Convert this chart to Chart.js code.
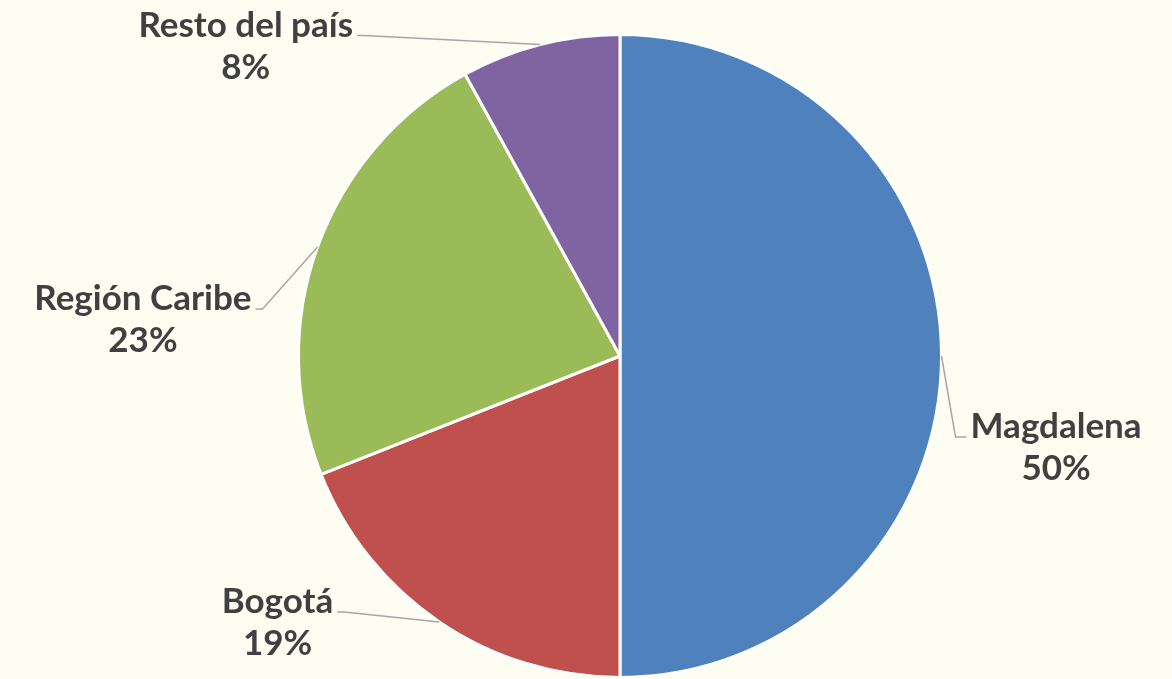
<!DOCTYPE html>
<html>
<head>
<meta charset="utf-8">
<script src="https://cdn.jsdelivr.net/npm/chart.js@4.4.1/dist/chart.umd.min.js"></script>
<style>
  html, body { margin: 0; padding: 0; background: #FDFDF2; }
  #wrap { width: 1172px; height: 679px; }
</style>
</head>
<body>
<div id="wrap"><canvas id="pieChart" width="1172" height="679"></canvas></div>
<script>
const categories = ['Magdalena', 'Bogotá', 'Región Caribe', 'Resto del país'];
const shares = [50, 19, 23, 8];
const sliceColors = ['#4F81BD', '#C0504D', '#9BBB59', '#8064A2'];

// where each label's leader line bends, relative to the slice's outer midpoint
const elbowOffsets = [[14, 81], [-95, -10], [-55, 62], [-176, -9]];

const leaderLabels = {
  id: 'leaderLabels',
  afterDatasetsDraw(chart) {
    const ctx = chart.ctx;
    const arcs = chart.getDatasetMeta(0).data;
    ctx.save();
    ctx.font = 'bold 35px Lato';
    ctx.fillStyle = '#404040';
    ctx.textBaseline = 'middle';
    arcs.forEach((arc, i) => {
      const mid = (arc.startAngle + arc.endAngle) / 2;
      const sx = arc.x + Math.cos(mid) * arc.outerRadius;
      const sy = arc.y + Math.sin(mid) * arc.outerRadius;
      const ex = sx + elbowOffsets[i][0];
      const ey = sy + elbowOffsets[i][1];
      const right = ex > arc.x;
      const tx = right ? ex + 11 : ex - 7;

      ctx.strokeStyle = '#A6A6A6';
      ctx.lineWidth = 1.5;
      ctx.beginPath();
      ctx.moveTo(sx, sy);
      ctx.lineTo(ex, ey);
      ctx.lineTo(tx, ey);
      ctx.stroke();

      const w = ctx.measureText(categories[i]).width;
      const cx = right ? tx + 4 + w / 2 : tx - 4 - w / 2;
      ctx.textAlign = 'center';
      ctx.fillText(categories[i], cx, ey - 10);
      ctx.fillText(shares[i] + '%', cx, ey + 32);
    });
    ctx.restore();
  }
};

new Chart(document.getElementById('pieChart').getContext('2d'), {
  type: 'pie',
  data: {
    labels: categories,
    datasets: [{
      data: shares,
      backgroundColor: sliceColors,
      borderColor: '#FFFFFF',
      borderWidth: 3
    }]
  },
  options: {
    responsive: false,
    animation: false,
    layout: { padding: { left: 297, right: 229, top: 33, bottom: 0 } },
    plugins: { legend: { display: false }, tooltip: { enabled: false } }
  },
  plugins: [leaderLabels]
});
</script>
</body>
</html>
